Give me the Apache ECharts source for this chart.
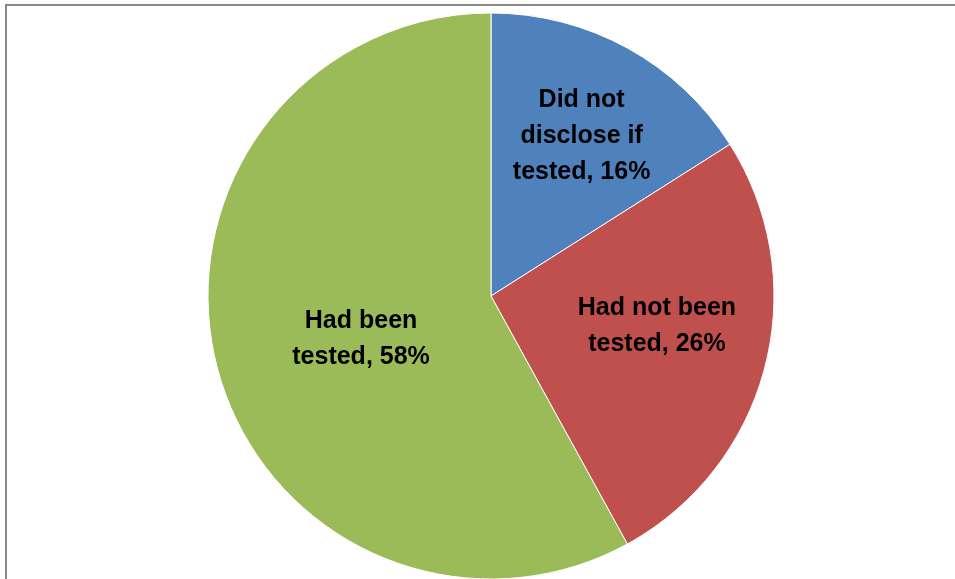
<!DOCTYPE html>
<html>
<head>
<meta charset="utf-8">
<script src="https://cdn.jsdelivr.net/npm/echarts@6/dist/echarts.min.js"></script>
<style>
html,body{margin:0;padding:0;background:#fff;}
#chart{width:955px;height:579px;}
</style>
</head>
<body>
<div id="chart"></div>
<script>
const categories = ['Did not\ndisclose if\ntested', 'Had not been\ntested', 'Had been\ntested'];
const values = [16, 26, 58];
const colors = ['#4F81BD', '#C0504D', '#9BBB59'];
const labelOffsets = [[21, -33], [26, -6], [10, 7]];

const chart = echarts.init(document.getElementById('chart'), null, {renderer: 'canvas'});
chart.setOption({
  animation: false,
  backgroundColor: '#ffffff',
  graphic: [{
    type: 'rect',
    shape: {x: 6, y: 5, width: 1200, height: 1200},
    style: {fill: 'none', stroke: '#888888', lineWidth: 2},
    silent: true,
    z: 100
  }],
  series: [{
    type: 'pie',
    center: [491, 296],
    radius: 283,
    startAngle: 90,
    clockwise: true,
    avoidLabelOverlap: false,
    itemStyle: {borderColor: '#ffffff', borderWidth: 1},
    label: {
      show: true,
      position: 'inside',
      formatter: '{b}, {c}%',
      color: '#000000',
      fontFamily: 'Liberation Sans',
      fontWeight: 'bold',
      fontSize: 25,
      lineHeight: 36,
      align: 'center'
    },
    labelLine: {show: false},
    emphasis: {disabled: true},
    data: categories.map((c, i) => ({
      name: c,
      value: values[i],
      itemStyle: {color: colors[i]},
      label: {offset: labelOffsets[i]}
    }))
  }]
});
</script>
</body>
</html>
